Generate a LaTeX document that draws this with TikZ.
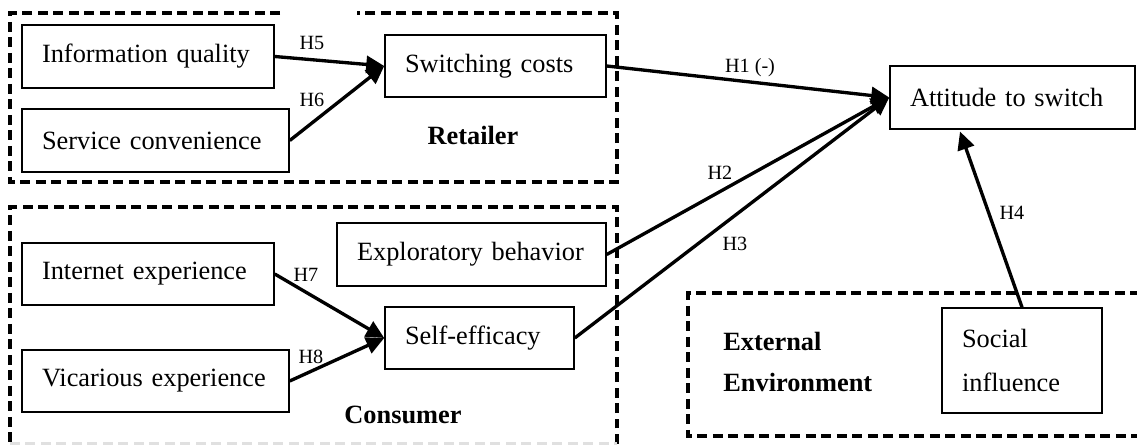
\documentclass[tikz,border=0pt]{standalone}
\usepackage{fontspec}
\setmainfont{Liberation Serif}
\usetikzlibrary{arrows.meta}

\begin{document}
\begin{tikzpicture} [
      x=0.02cm, y=-0.02cm,
      every node/.style={font=\fontsize{15}{18}\selectfont},
      factor/.style={draw, rectangle, line width=0.9pt, inner xsep=0.4cm, minimum height=1.25cm, align=left},
      group/.style={line width=2pt, dash pattern=on 0.2cm off 0.11cm},
      hyp/.style={line width=1.9pt, -{Triangle[length=0.36cm, width=0.34cm]}},
      hlabel/.style={font=\fontsize{11.5}{13}\selectfont, inner sep=0pt},
      grouplabel/.style={font=\fontsize{15}{22.8}\selectfont\bfseries, align=left, inner sep=0pt}
   ]
    \useasboundingbox (0,0) rectangle (1137,445);

    % groups
    \draw[group] (280,13) -- (10,13) -- (10,182) -- (617,182) -- (617,13) -- (357,13);
    \draw[group] (617,444) -- (617,207) -- (10,207) -- (10,444);
    \draw[group, black!12, line width=1.2pt] (10,443.5) -- (617,443.5);
    \draw[group] (1140,293) -- (688,293) -- (688,436) -- (1140,436);

    \node[grouplabel] (lblRetailer) at (473,135) {Retailer};
    \node[grouplabel] (lblConsumer) at (403,415) {Consumer};
    \node[grouplabel, anchor=west] (lblExternal) at (723,362) {External\\Environment};

    % factors
    \node[factor, text width=4.24cm] (infoQuality) at (148,56.5) {Information quality};
    \node[factor, text width=4.54cm] (serviceConv) at (155.5,140.5) {Service convenience};
    \node[factor, text width=3.62cm] (switchCost) at (495.5,66) {Switching costs};
    \node[factor, text width=4.10cm] (attitude) at (1012.5,97.5) {Attitude to switch};
    \node[factor, text width=4.24cm] (internetExp) at (148,274) {Internet experience};
    \node[factor, text width=4.54cm] (vicariousExp) at (155.5,381) {Vicarious experience};
    \node[factor, text width=4.58cm] (explorBeh) at (471.5,254.5) {Exploratory behavior};
    \node[factor, text width=2.98cm] (selfEff) at (479.5,338) {Self-efficacy};
    \node[factor, text width=2.40cm, minimum height=2.1cm, font=\fontsize{15}{24.5}\selectfont] (socialInf) at (1022,360.5) {Social\\influence};

    % hypotheses
    \draw[hyp] (infoQuality.east) -- (switchCost.west);
    \draw[hyp] (serviceConv.east) -- (switchCost.west);
    \draw[hyp] (switchCost.east) -- (attitude.west);
    \draw[hyp] (explorBeh.east) -- (attitude.west);
    \draw[hyp] (selfEff.east) -- (attitude.west);
    \draw[hyp] (internetExp.east) -- (selfEff.west);
    \draw[hyp] (vicariousExp.east) -- (selfEff.west);
    \draw[hyp] (socialInf.north) -- ([xshift=-1.05cm, yshift=-0.04cm]attitude.south);

    \node[hlabel] (h5) at (312,43) {H5};
    \node[hlabel] (h6) at (312,100) {H6};
    \node[hlabel] (h7) at (306,275) {H7};
    \node[hlabel] (h8) at (311,357) {H8};
    \node[hlabel] (h1) at (750,68) {H1 (-)};
    \node[hlabel] (h2) at (720,173) {H2};
    \node[hlabel] (h3) at (735,244) {H3};
    \node[hlabel] (h4) at (1012,213) {H4};

  \end{tikzpicture}
\end{document}
